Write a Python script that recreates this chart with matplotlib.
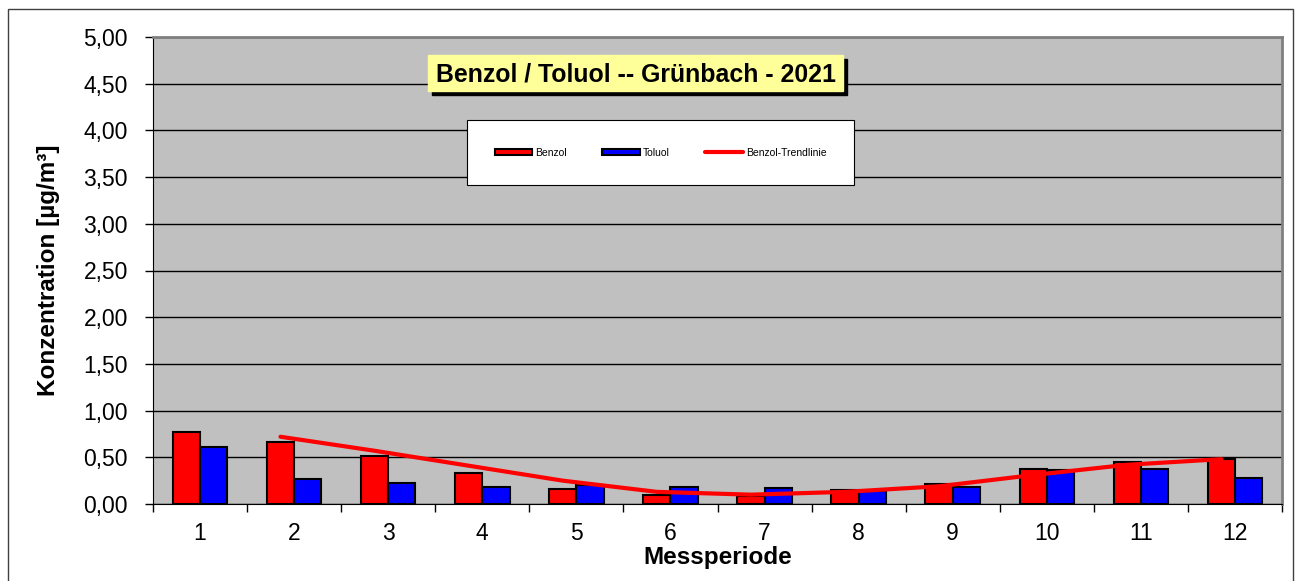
import numpy as np
import matplotlib.pyplot as plt
from matplotlib.patches import Rectangle

plt.rcParams['font.family'] = ['Liberation Sans', 'DejaVu Sans']

perioden = list(range(1, 13))
benzol = [0.77, 0.66, 0.51, 0.33, 0.16, 0.10, 0.09, 0.15, 0.21, 0.37, 0.45, 0.48]
toluol = [0.61, 0.27, 0.22, 0.18, 0.20, 0.18, 0.17, 0.14, 0.18, 0.36, 0.38, 0.28]
trend_perioden = list(range(2, 13))
trend = [0.72, 0.57, 0.41, 0.25, 0.13, 0.10, 0.13, 0.19, 0.31, 0.42, 0.48]
y_ticks = [0.0, 0.5, 1.0, 1.5, 2.0, 2.5, 3.0, 3.5, 4.0, 4.5, 5.0]

W, H = 1298, 581


def main():
    fig = plt.figure(figsize=(W / 100, H / 100), dpi=100)
    # outer chart frame
    fig.patches.append(Rectangle((8 / W, -0.01), 1285 / W, (H - 9) / H + 0.01,
                                 transform=fig.transFigure, fill=False,
                                 edgecolor='#404040', lw=1.0))
    ax = fig.add_axes([153 / W, 77 / H, 1129 / W, 467 / H])
    ax.set_facecolor('#c0c0c0')

    x = np.array(perioden)
    w = 0.29
    b1 = ax.bar(x - w / 2, benzol, w, color='#ff0000', edgecolor='black', lw=1.5,
                label='Benzol', zorder=3)
    b2 = ax.bar(x + w / 2, toluol, w, color='#0000ff', edgecolor='black', lw=1.5,
                label='Toluol', zorder=3)
    ln, = ax.plot(np.array(trend_perioden) - w / 2, trend, color='#ff0000', lw=3,
                  label='Benzol-Trendlinie', zorder=4, solid_capstyle='round')

    ax.set_xlim(0.5, 12.5)
    ax.set_ylim(0, 5)
    ax.set_yticks(y_ticks)
    ax.set_yticklabels([f"{v:.2f}".replace('.', ',') for v in y_ticks], fontsize=16.5)
    ax.yaxis.grid(True, color='black', lw=1.0, zorder=1)
    ax.set_axisbelow(True)

    ax.set_xticks(np.arange(0.5, 13, 1))
    ax.set_xticklabels([])
    ax.set_xticks(x, minor=True)
    ax.set_xticklabels([str(p) for p in perioden], minor=True, fontsize=16.5)
    ax.tick_params(axis='x', which='minor', length=0, pad=13)
    ax.tick_params(axis='x', which='major', length=6, width=1, direction='out')
    ax.tick_params(axis='y', length=6, width=1, direction='out', pad=12)

    for side in ['top', 'right']:
        ax.spines[side].set_color('#808080')
        ax.spines[side].set_linewidth(2)
    ax.spines['left'].set_color('black')
    ax.spines['bottom'].set_color('black')

    ax.set_xlabel('Messperiode', fontsize=17.5, fontweight='bold')
    ax.xaxis.set_label_coords(0.5, -(546 - 504) / 467)
    ax.set_ylabel('Konzentration [µg/m³]', fontsize=17.5, fontweight='bold')
    ax.yaxis.set_label_coords(-(153 - 60) / 1129, 0.5)

    # title box with shadow
    fig.patches.append(Rectangle((432 / W, 1 - 95 / H), 415 / W, 36 / H,
                                 transform=fig.transFigure, color='black', zorder=0))
    fig.patches.append(Rectangle((428 / W, 1 - 91 / H), 415 / W, 36 / H,
                                 transform=fig.transFigure, facecolor='#ffff99',
                                 edgecolor='#ffff99', zorder=0.5))
    fig.text(636 / W, 1 - 74 / H, 'Benzol / Toluol -- Grünbach - 2021',
             fontsize=17.9, fontweight='bold', va='center', ha='center')

    leg = ax.legend(handles=[b1, b2, ln], loc='upper left',
                    bbox_to_anchor=((467 - 153) / 1129, (504 - 120) / 467),
                    ncol=3, fontsize=7.5, frameon=True, fancybox=False,
                    edgecolor='black', facecolor='white', framealpha=1,
                    borderpad=2.65, borderaxespad=0, handlelength=3.6,
                    columnspacing=3.4, handletextpad=0.3, handleheight=0.6)
    leg.get_frame().set_linewidth(0.8)

    fig.savefig('out.png', dpi=100)
    plt.close(fig)


if __name__ == "__main__":
    main()
